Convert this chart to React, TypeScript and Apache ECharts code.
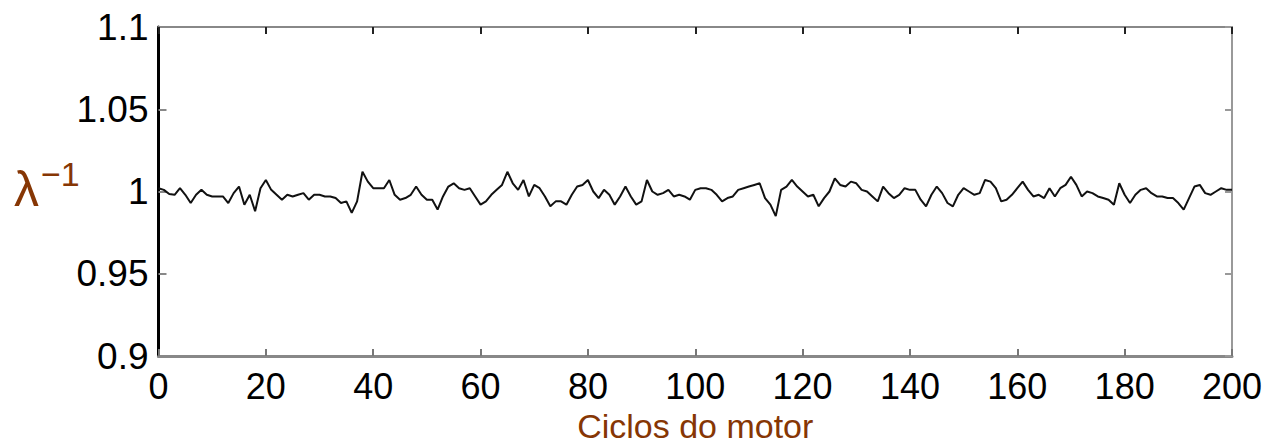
import React, { useEffect, useRef } from "react";
import * as echarts from "echarts";

const cycles: number[] = Array.from({ length: 201 }, (_, i) => i);
const lambdaInv: number[] = [
  1.002, 1.001, 0.9985, 0.998, 1.002, 0.998, 0.993, 0.998, 1.001, 0.998,
  0.997, 0.997, 0.997, 0.993, 0.999, 1.003, 0.992, 0.998, 0.988, 1.002,
  1.007, 1.001, 0.998, 0.995, 0.998, 0.997, 0.998, 0.999, 0.995, 0.998,
  0.998, 0.997, 0.997, 0.996, 0.993, 0.994, 0.987, 0.994, 1.012, 1.006,
  1.002, 1.002, 1.002, 1.007, 0.998, 0.995, 0.996, 0.998, 1.003, 0.998,
  0.995, 0.995, 0.989, 0.997, 1.003, 1.005, 1.002, 1.001, 1.002, 0.997,
  0.992, 0.994, 0.998, 1.001, 1.004, 1.012, 1.005, 1.001, 1.007, 0.997,
  1.004, 1.002, 0.997, 0.991, 0.994, 0.994, 0.992, 0.998, 1.003, 1.004,
  1.007, 1.0, 0.996, 1.001, 0.998, 0.992, 0.997, 1.003, 0.997, 0.992,
  0.994, 1.007, 1.0, 0.998, 0.999, 1.001, 0.997, 0.998, 0.997, 0.995,
  1.001, 1.002, 1.002, 1.001, 0.998, 0.994, 0.996, 0.997, 1.001, 1.002,
  1.003, 1.004, 1.005, 0.996, 0.992, 0.985, 1.001, 1.003, 1.007, 1.003,
  1.0, 0.997, 0.998, 0.991, 0.996, 1.0, 1.008, 1.004, 1.003, 1.006,
  1.005, 1.001, 1.0, 0.997, 0.994, 1.003, 0.999, 0.996, 0.998, 1.002,
  1.001, 1.001, 0.995, 0.991, 0.998, 1.003, 0.999, 0.993, 0.991, 0.998,
  1.002, 1.0, 0.998, 0.999, 1.007, 1.006, 1.002, 0.994, 0.995, 0.998,
  1.002, 1.006, 1.001, 0.997, 0.998, 0.996, 1.002, 0.997, 1.002, 1.004,
  1.009, 1.004, 0.997, 1.0, 0.999, 0.997, 0.996, 0.995, 0.992, 1.005,
  0.998, 0.993, 0.998, 1.001, 1.002, 0.999, 0.997, 0.997, 0.996, 0.996,
  0.993, 0.989, 0.996, 1.003, 1.004, 0.999, 0.998, 1.0, 1.002, 1.001,
  1.001,
];
const yTicks: number[] = [0.9, 0.95, 1, 1.05, 1.1];
const xAxisName = "Ciclos do motor";
const yAxisSymbol = "λ";
const yAxisSup = "−1";

const BROWN = "#863604";
const FONT = '"Liberation Sans", Arial, sans-serif';

export default function App() {
  const ref = useRef<HTMLDivElement>(null);
  useEffect(() => {
    if (!ref.current) return;
    const chart = echarts.init(ref.current, null, { renderer: "svg" });
    chart.setOption({
      animation: false,
      backgroundColor: "#ffffff",
      grid: {
        left: 158.5,
        right: 31,
        top: 27,
        bottom: 92,
        containLabel: false,
        outerBoundsMode: "none",
      },
      xAxis: [
        {
          type: "value",
          min: 0,
          max: 200,
          interval: 20,
          position: "bottom",
          name: xAxisName,
          nameLocation: "middle",
          nameGap: 53,
          nameTextStyle: { color: BROWN, fontSize: 34, fontFamily: FONT },
          axisLine: { show: true, onZero: false, lineStyle: { color: "#888", width: 3 } },
          axisTick: { show: true, inside: true, length: 7, lineStyle: { color: "#777", width: 2 } },
          axisLabel: { color: "#000", fontSize: 36, fontFamily: FONT, margin: 12 },
          splitLine: { show: false },
        },
        {
          type: "value",
          min: 0,
          max: 200,
          interval: 20,
          position: "top",
          axisLine: { show: true, onZero: false, lineStyle: { color: "#888", width: 2 } },
          axisTick: { show: true, inside: true, length: 7, lineStyle: { color: "#222", width: 2 } },
          axisLabel: { show: false },
          splitLine: { show: false },
        },
      ],
      yAxis: [
        {
          type: "value",
          min: yTicks[0],
          max: yTicks[yTicks.length - 1],
          interval: 0.05,
          position: "left",
          axisLine: { show: true, onZero: false, lineStyle: { color: "#000", width: 3 } },
          axisTick: { show: true, inside: true, length: 8, lineStyle: { color: "#888", width: 2 } },
          axisLabel: {
            color: "#000",
            fontSize: 37,
            fontFamily: FONT,
            margin: 10,
            formatter: (v: number) => String(parseFloat(v.toFixed(2))),
          },
          splitLine: { show: false },
        },
        {
          type: "value",
          min: yTicks[0],
          max: yTicks[yTicks.length - 1],
          interval: 0.05,
          position: "right",
          axisLine: { show: true, onZero: false, lineStyle: { color: "#999", width: 2 } },
          axisTick: { show: true, inside: true, length: 7, lineStyle: { color: "#999", width: 2 } },
          axisLabel: { show: false },
          splitLine: { show: false },
        },
      ],
      graphic: [
        {
          type: "text",
          left: 14,
          top: 164,
          style: { text: yAxisSymbol, fill: BROWN, font: `50px ${FONT}` },
        },
        {
          type: "text",
          left: 41,
          top: 157,
          style: { text: yAxisSup, fill: BROWN, font: `34px ${FONT}` },
        },
      ],
      series: [
        {
          type: "line",
          xAxisIndex: 0,
          yAxisIndex: 0,
          data: cycles.map((c, i) => [c, lambdaInv[i]]),
          showSymbol: false,
          symbol: "none",
          lineStyle: { color: "#111", width: 2 },
        },
      ],
    });
    return () => chart.dispose();
  }, []);
  return (
    <div
      ref={ref}
      style={{ position: "fixed", left: 0, top: 0, width: 1263, height: 448 }}
    />
  );
}
